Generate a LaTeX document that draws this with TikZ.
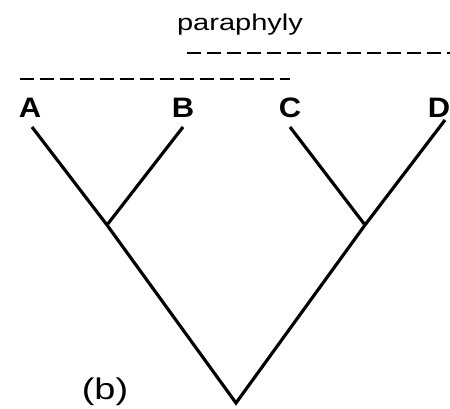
\documentclass[tikz,border=0pt]{standalone}
\usepackage{graphicx}
\usepackage{fontspec}
\setmainfont{Liberation Sans}
\newcommand{\wide}[2][1.27]{\scalebox{#1}[1]{#2}}

\begin{document}
\begin{tikzpicture}[x=0.02cm,y=-0.02cm,
    branch/.style={line width=1.8pt},
    grp/.style={line width=0.9pt, dash pattern=on 0.28cm off 0.12cm},
    taxon/.style={font=\fontsize{16}{19}\selectfont\bfseries, inner sep=0pt}]
    % 描画範囲
    \useasboundingbox (0,0) rectangle (450,409);
    \clip (0,0) rectangle (450,409);

    % 分岐点と枝の先端
    \coordinate (root) at (236,403);
    \coordinate (ab) at (107,225);
    \coordinate (cd) at (365,225);
    \coordinate (tA) at (32,127);
    \coordinate (tB) at (183,127);
    \coordinate (tC) at (290,127);
    \coordinate (tD) at (445,120);

    % 枝
    \draw [branch] (tA) -- (ab) -- (root) -- (cd) -- (tD);
    \draw [branch] (ab) -- (tB);
    \draw [branch] (cd) -- (tC);

    % 末端の名前
    \foreach \t/\x in {A/30,B/183,C/290,D/439} {
        \node [taxon] (\t) at (\x,108) {\wide[1.1]{\t}};
    }

    % 破線
    \coordinate (g1s) at (20,79);
    \coordinate (g1e) at (290,79);
    \coordinate (g2s) at (187,53);
    \coordinate (g2e) at (452,53);
    \draw [grp] (g1s) -- (g1e);
    \draw [grp] (g2s) -- (g2e);

    \node [font=\fontsize{13}{15}\selectfont] (para) at (240,25) {\wide{paraphyly}};
    \node [font=\fontsize{17}{20}\selectfont] (lab) at (105,392) {\wide{(b)}};
    %
\end{tikzpicture}
\end{document}
